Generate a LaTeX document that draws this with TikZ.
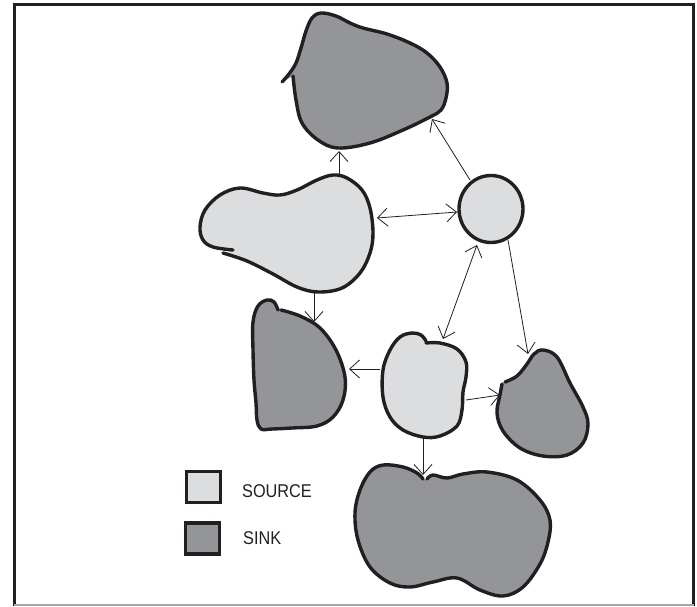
\documentclass[tikz,border=0pt]{standalone}
\usepackage{fontspec}
\newfontfamily\lblfont[FakeStretch=0.88]{Liberation Sans}
\usetikzlibrary{arrows.meta}
\definecolor{srcfill}{HTML}{DCDDDF}
\definecolor{sinkfill}{HTML}{939598}
\definecolor{ink}{HTML}{231F20}
\begin{document}
\begin{tikzpicture}[x=1pt,y=-1pt,
  blob/.style={draw=ink,line width=3.4pt,line join=round,line cap=round},
  srcblob/.style={blob,fill=srcfill},
  sinkblob/.style={blob,fill=sinkfill},
  arr/.style={draw=ink,line width=0.8pt,-{Straight Barb[length=10pt,width=18pt,line width=0.8pt]}},
  darr/.style={draw=ink,line width=0.8pt,{Straight Barb[length=10pt,width=18pt,line width=0.8pt]}-{Straight Barb[length=10pt,width=18pt,line width=0.8pt]}},
  legbox/.style={draw=ink,line width=3.2pt,minimum width=34pt,minimum height=31pt,inner sep=0pt},
  lbl/.style={anchor=base west,inner sep=0pt,font=\lblfont\fontsize{18.5}{20}\selectfont,text=ink}]
\useasboundingbox (0,0) rectangle (697,606);
\fill[white] (0,0) rectangle (697,606);
% frame
\draw[ink,line width=3pt] (14,606) -- (14,4.5) -- (693.5,4.5) -- (693.5,606);
\draw[black!35,line width=1.5pt] (14,605) -- (693.5,605);

% top sink
\filldraw[sinkblob] plot[smooth,tension=0.6] coordinates {
 (293,76) (296,100) (302,123) (318,140) (338,148) (370,143) (403,130) (430,117)
 (441,110) (446,98) (447,83) (440,67) (427,53) (410,43) (387,34) (363,28)
 (350,23) (336,16) (321,13) (312,18) (306,31) (301,48) (296,63) (289,74) (282,82)};
% left source
\filldraw[srcblob] plot[smooth,tension=0.6] coordinates {
 (223,253) (247,261) (273,274) (297,287) (318,292) (342,288) (360,273) (370,253)
 (373,233) (370,208) (362,190) (347,178) (333,175) (317,180) (297,190) (280,195)
 (263,193) (240,188) (220,195) (205,210) (200,227) (203,240) (213,247) (233,250)};
% circle source
\filldraw[srcblob] (491,209) ellipse [x radius=32pt,y radius=33.5pt];
% left sink
\filldraw[sinkblob] plot[smooth,tension=0.6] coordinates {
 (281,310) (300,316) (320,328) (336,350) (345,377) (343,400) (333,417) (317,426)
 (292,428) (272,429) (261,429) (257,420) (256,403) (254,380) (253,350) (253,322)
 (258,306) (267,300) (274,302) (278,310)};
% centre source
\filldraw[srcblob] plot[smooth,tension=0.6] coordinates {
 (426,343) (440,343) (457,349) (466,362) (466,377) (463,392) (462,410) (457,426)
 (440,436) (423,437) (403,430) (390,417) (383,397) (383,370) (390,350) (400,337)
 (412,333) (421,335) (426,341)};
% right sink
\filldraw[sinkblob] plot[smooth,tension=0.6] coordinates {
 (505,382) (517,376) (527,364) (534,354) (543,350) (557,357) (570,383) (583,407)
 (588,424) (583,443) (567,455) (543,456) (520,448) (503,431) (497,413) (500,395) (502,384)};
% bottom sink
\filldraw[sinkblob] plot[smooth,tension=0.6] coordinates {
 (427,479) (433,475) (447,478) (463,474) (487,472) (517,480) (540,500) (550,520)
 (548,542) (540,564) (523,587) (503,596) (480,590) (457,578) (433,582) (410,587)
 (390,583) (370,567) (358,540) (355,513) (360,490) (370,472) (383,465) (403,467)
 (417,473) (423,479)};

% connector end points
\coordinate (lTop) at (339,175);
\coordinate (tBot) at (339,151);
\coordinate (cTL) at (470,180);
\coordinate (tBR) at (432,119);
\coordinate (lR) at (377,218);
\coordinate (cL) at (457,212);
\coordinate (cBL) at (477,245);
\coordinate (csTop) at (443,339);
\coordinate (cBR) at (508,240);
\coordinate (rsTop) at (528,354);
\coordinate (lBot) at (314,292);
\coordinate (lsTop) at (314,322);
\coordinate (csL) at (380,369);
\coordinate (lsR) at (349,369);
\coordinate (csR) at (466,400);
\coordinate (rsL) at (500,395);
\coordinate (csBot) at (423,437);
\coordinate (bsTop) at (423,475);

\draw[arr] (lTop) -- (tBot);
\draw[arr] (cTL) -- (tBR);
\draw[darr] (lR) -- (cL);
\draw[darr] (cBL) -- (csTop);
\draw[arr] (cBR) -- (rsTop);
\draw[arr] (lBot) -- (lsTop);
\draw[arr] (csL) -- (lsR);
\draw[arr] (csR) -- (rsL);
\draw[arr] (csBot) -- (bsTop);

% legend
\node[legbox,fill=srcfill] (srcKey) at (203.5,487) {};
\node[legbox,fill=sinkfill] (sinkKey) at (202.5,538.5) {};
\node[lbl] (srcLbl) at (242,497) {SOURCE};
\node[lbl] (sinkLbl) at (243,544.5) {SINK};
\end{tikzpicture}
\end{document}
